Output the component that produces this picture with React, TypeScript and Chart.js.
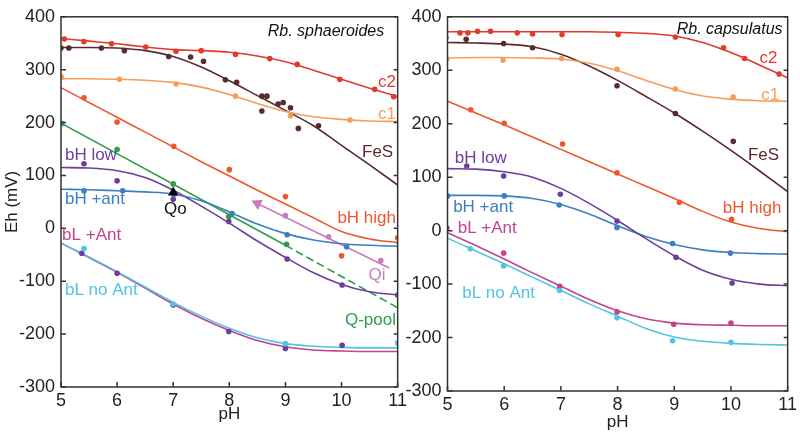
import React, { useEffect, useRef } from 'react';
import { Chart, registerables } from 'chart.js';
Chart.register(...registerables);
Chart.defaults.font.family = '"Liberation Sans", Arial, sans-serif';

type P = [number, number];

// pH grid for fitted curves
const PH_GRID = [5, 5.5, 6, 6.5, 7, 7.5, 8, 8.5, 9, 9.5, 10, 10.5, 11];
const X_TICKS = [5, 6, 7, 8, 9, 10, 11];
const Y_TICKS = [-300, -200, -100, 0, 100, 200, 300, 400];

const COL = {
  c2: '#e5392b',
  c1: '#f59d5a',
  fes: '#5a2b2d',
  bhHigh: '#f0562c',
  bhLow: '#6b3f9b',
  bhAnt: '#3d7fc0',
  qpool: '#2e9d46',
  qi: '#c97cc0',
  blAnt: '#c2438f',
  blNo: '#52c4e3',
  qo: '#000000',
};

// ---------- Rb. sphaeroides (left) ----------
const L_C2_CURVE = [359, 354, 349, 343, 338, 336, 333, 326, 315, 299, 282, 265, 249];
const L_C1_CURVE = [283, 283, 282, 280, 276, 267, 253, 236, 221, 211, 206, 203, 202];
const L_FES_CURVE = [342, 342, 341, 336, 325, 305, 279, 251, 223, 194, 157, 120, 82];
const L_BHHIGH_CURVE = [266, 238, 210, 182, 154, 126, 99, 72, 46, 20, -6, -20, -27];
const L_BHANT_CURVE = [74, 73, 71, 69, 65, 52, 31, 8, -10, -22, -29, -32, -34];
const L_BHLOW_CURVE = [115, 114, 109, 96, 72, 42, 10, -24, -55, -84, -106, -120, -126];
const L_BLANT_CURVE = [-28, -55, -83, -113, -143, -170, -193, -212, -224, -230, -232, -233, -233];
const L_BLNO_CURVE = [-28, -54, -82, -111, -140, -166, -189, -207, -218, -223, -225, -226, -226];
const L_QPOOL_LINE: P[] = [[5, 199], [9, -32], [11, -150]];
const L_QI_LINE: P[] = [[8.5, 47], [10.85, -75]];
const L_QO_MARK: P[] = [[7.0, 68]];

const L_C2_PTS: P[] = [[5.06, 358], [5.41, 353], [5.9, 349], [6.51, 343], [7.05, 335], [7.5, 336], [8.11, 329], [8.72, 321], [9.21, 310], [9.97, 282], [10.59, 263], [10.93, 249]];
const L_C1_PTS: P[] = [[5.01, 286], [6.04, 282], [7.05, 273], [8.11, 250], [9.09, 213], [10.15, 205]];
const L_FES_PTS: P[] = [[5.0, 341], [5.14, 341], [5.72, 341], [6.13, 336], [6.92, 325], [7.31, 324], [7.54, 316], [7.93, 281], [8.13, 276], [8.58, 250], [8.67, 250], [8.58, 222], [8.87, 235], [8.96, 238], [9.09, 228], [9.23, 189], [9.59, 194]];
const L_BHHIGH_PTS: P[] = [[5.41, 247], [6.0, 201], [7.01, 155], [8.0, 111], [9.0, 60], [10.0, -52], [11.0, -18]];
const L_BHANT_PTS: P[] = [[5.41, 71], [6.1, 71], [7.01, 64], [8.05, 28], [9.03, -12], [10.09, -35]];
const L_BHLOW_PTS: P[] = [[5.41, 122], [6.0, 90], [7.0, 55], [7.99, 13], [9.03, -58], [10.01, -107], [11.0, -126]];
const L_QPOOL_PTS: P[] = [[5.01, 198], [6.0, 149], [7.0, 84], [7.99, 22], [9.02, -30]];
const L_QI_PTS: P[] = [[9.0, 24], [9.77, -16], [10.7, -61]];
const L_BLANT_PTS: P[] = [[5.37, -47], [6.0, -85], [7.0, -145], [7.99, -195], [9.0, -227], [10.01, -221]];
const L_BLNO_PTS: P[] = [[5.41, -38], [7.0, -143], [9.0, -218], [11.0, -217]];

// ---------- Rb. capsulatus (right) ----------
const R_C2_CURVE = [372, 372, 372, 372, 372, 372, 371, 369, 364, 352, 333, 310, 286];
const R_C1_CURVE = [323, 324, 324, 323, 321, 313, 299, 281, 264, 252, 246, 243, 242];
const R_FES_CURVE = [352, 351, 349, 344, 330, 308, 281, 251, 220, 186, 150, 112, 73];
const R_BHHIGH_CURVE = [242, 220, 198, 175, 152, 129, 106, 83, 60, 36, 16, 4, -2];
const R_BHLOW_CURVE = [116, 115, 110, 100, 79, 51, 19, -15, -47, -74, -91, -100, -103];
const R_BHANT_CURVE = [66, 66, 65, 60, 49, 31, 9, -11, -26, -36, -41, -43, -44];
const R_BLANT_CURVE = [-4, -28, -53, -79, -104, -129, -150, -165, -173, -176, -177, -178, -178];
const R_BLNO_CURVE = [-14, -38, -62, -87, -112, -137, -160, -183, -199, -207, -211, -213, -214];

const R_C2_PTS: P[] = [[5.22, 370], [5.36, 370], [5.53, 373], [5.76, 373], [6.23, 370], [6.5, 368], [7.02, 367], [8.01, 367], [9.02, 362], [9.87, 342], [10.24, 322], [10.85, 293]];
const R_C1_PTS: P[] = [[4.99, 321], [5.98, 319], [7.01, 322], [7.99, 302], [9.02, 265], [10.04, 250]];
const R_FES_PTS: P[] = [[4.97, 361], [5.33, 358], [5.99, 350], [6.5, 342], [7.99, 271], [9.02, 219], [10.04, 167]];
const R_BHHIGH_PTS: P[] = [[5.41, 226], [6.0, 201], [7.03, 162], [7.99, 108], [9.09, 53], [10.01, 21]];
const R_BHLOW_PTS: P[] = [[5.34, 121], [5.99, 102], [6.99, 68], [7.99, 18], [9.03, -50], [10.02, -98]];
const R_BHANT_PTS: P[] = [[5.0, 65], [6.0, 65], [6.97, 48], [7.99, 6], [8.97, -24], [9.99, -42]];
const R_BLANT_PTS: P[] = [[4.99, 5], [5.99, -42], [6.98, -104], [7.99, -152], [8.99, -175], [10.0, -173]];
const R_BLNO_PTS: P[] = [[5.4, -34], [5.99, -66], [6.98, -112], [7.99, -163], [8.97, -206], [10.0, -209]];

type Label = { text: string; x: number; y: number; color: string; align: CanvasTextAlign; italic?: boolean };

const L_LABELS: Label[] = [
  { text: 'Rb. sphaeroides', x: 10.76, y: 372, color: '#111', align: 'right', italic: true },
  { text: 'c2', x: 10.97, y: 276, color: COL.c2, align: 'right' },
  { text: 'c1', x: 10.97, y: 215, color: COL.c1, align: 'right' },
  { text: 'FeS', x: 10.92, y: 143, color: COL.fes, align: 'right' },
  { text: 'bH low', x: 5.07, y: 138, color: COL.bhLow, align: 'left' },
  { text: 'bH +ant', x: 5.07, y: 55, color: COL.bhAnt, align: 'left' },
  { text: 'Qo', x: 7.04, y: 36, color: '#111', align: 'center' },
  { text: 'bH high', x: 10.97, y: 19, color: COL.bhHigh, align: 'right' },
  { text: 'bL +Ant', x: 5.02, y: -14, color: COL.blAnt, align: 'left' },
  { text: 'Qi', x: 10.48, y: -88, color: COL.qi, align: 'left' },
  { text: 'bL no Ant', x: 5.07, y: -117, color: COL.blNo, align: 'left' },
  { text: 'Q-pool', x: 10.97, y: -173, color: COL.qpool, align: 'right' },
];

const R_LABELS: Label[] = [
  { text: 'Rb. capsulatus', x: 10.91, y: 376, color: '#111', align: 'right', italic: true },
  { text: 'c2', x: 10.82, y: 323, color: COL.c2, align: 'right' },
  { text: 'c1', x: 10.85, y: 254, color: COL.c1, align: 'right' },
  { text: 'FeS', x: 10.85, y: 141, color: COL.fes, align: 'right' },
  { text: 'bH low', x: 5.13, y: 136, color: COL.bhLow, align: 'left' },
  { text: 'bH +ant', x: 5.1, y: 43, color: COL.bhAnt, align: 'left' },
  { text: 'bH high', x: 10.89, y: 42, color: COL.bhHigh, align: 'right' },
  { text: 'bL +Ant', x: 5.18, y: 5, color: COL.blAnt, align: 'left' },
  { text: 'bL no Ant', x: 5.26, y: -117, color: COL.blNo, align: 'left' },
];

const toXY = (arr: P[]) => arr.map(([x, y]) => ({ x, y }));
const curve = (ys: number[], color: string) => ({
  data: PH_GRID.map((x, i) => ({ x, y: ys[i] })),
  showLine: true,
  borderColor: color,
  backgroundColor: color,
  borderWidth: 1.6,
  pointRadius: 0,
  cubicInterpolationMode: 'monotone' as const,
  order: 2,
});
const pts = (arr: P[], color: string) => ({
  data: toXY(arr),
  showLine: false,
  backgroundColor: color,
  borderColor: color,
  borderWidth: 0,
  pointRadius: 2.8,
  order: 1,
});

const makePlugin = (labels: Label[]) => ({
  id: 'frameAndLabels',
  afterDatasetsDraw(chart: any) {
    const { ctx, chartArea: a, scales } = chart;
    const xs = scales.x;
    const ys = scales.y;
    ctx.save();
    ctx.strokeStyle = '#333';
    ctx.lineWidth = 1.5;
    ctx.strokeRect(a.left, a.top, a.right - a.left, a.bottom - a.top);
    ctx.beginPath();
    X_TICKS.forEach((v) => {
      const px = xs.getPixelForValue(v);
      ctx.moveTo(px, a.bottom);
      ctx.lineTo(px, a.bottom - 5);
    });
    Y_TICKS.forEach((v) => {
      const py = ys.getPixelForValue(v);
      ctx.moveTo(a.left, py);
      ctx.lineTo(a.left + 5, py);
      ctx.moveTo(a.right, py);
      ctx.lineTo(a.right - 4, py);
    });
    ctx.stroke();
    ctx.textBaseline = 'middle';
    labels.forEach((l) => {
      ctx.font = (l.italic ? 'italic ' : '') + '17px "Liberation Sans", Arial, sans-serif';
      if (l.italic) ctx.font = 'italic 16px "Liberation Sans", Arial, sans-serif';
      ctx.fillStyle = l.color;
      ctx.textAlign = l.align;
      ctx.fillText(l.text, xs.getPixelForValue(l.x), ys.getPixelForValue(l.y));
    });
    ctx.restore();
  },
});

function buildOptions(opts: { yWidth: number; xHeight: number; padding: any; yTitle: string | null }) {
  return {
    responsive: false,
    animation: false as const,
    devicePixelRatio: 1,
    layout: { padding: opts.padding },
    plugins: { legend: { display: false }, tooltip: { enabled: false } },
    scales: {
      x: {
        type: 'linear' as const,
        min: 5,
        max: 11,
        afterFit: (s: any) => { s.height = opts.xHeight; },
        afterBuildTicks: (s: any) => { s.ticks = X_TICKS.map((v) => ({ value: v })); },
        grid: { display: false, drawTicks: false },
        border: { display: false },
        ticks: { color: '#222', font: { size: 18 }, padding: 3 },
        title: { display: true, text: 'pH', color: '#222', font: { size: 17 }, padding: 4 },
      },
      y: {
        type: 'linear' as const,
        min: -300,
        max: 400,
        afterFit: (s: any) => { s.width = opts.yWidth; },
        afterBuildTicks: (s: any) => { s.ticks = Y_TICKS.map((v) => ({ value: v })); },
        grid: { display: false, drawTicks: false },
        border: { display: false },
        ticks: { color: '#222', font: { size: 18 }, padding: 6 },
        title: { display: !!opts.yTitle, text: opts.yTitle || '', color: '#222', font: { size: 17 }, padding: 2 },
      },
    },
  };
}

function Panel(props: { datasets: any[]; labels: Label[]; options: any; width: number; left: number }) {
  const ref = useRef<HTMLCanvasElement>(null);
  useEffect(() => {
    if (!ref.current) return;
    const chart = new Chart(ref.current, {
      type: 'scatter',
      data: { datasets: props.datasets },
      options: props.options,
      plugins: [makePlugin(props.labels)],
    } as any);
    return () => chart.destroy();
  }, []);
  return (
    <canvas
      ref={ref}
      width={props.width}
      height={439}
      style={{ position: 'absolute', left: props.left, top: 0, width: props.width, height: 439 }}
    />
  );
}

export default function App() {
  const leftDatasets = [
    curve(L_C2_CURVE, COL.c2), pts(L_C2_PTS, COL.c2),
    curve(L_C1_CURVE, COL.c1), pts(L_C1_PTS, COL.c1),
    curve(L_FES_CURVE, COL.fes), pts(L_FES_PTS, COL.fes),
    curve(L_BHHIGH_CURVE, COL.bhHigh), pts(L_BHHIGH_PTS, COL.bhHigh),
    curve(L_BHANT_CURVE, COL.bhAnt), pts(L_BHANT_PTS, COL.bhAnt),
    curve(L_BHLOW_CURVE, COL.bhLow), pts(L_BHLOW_PTS, COL.bhLow),
    curve(L_BLNO_CURVE, COL.blNo), pts(L_BLNO_PTS, COL.blNo),
    curve(L_BLANT_CURVE, COL.blAnt), pts(L_BLANT_PTS, COL.bhLow),
    {
      data: toXY(L_QPOOL_LINE), showLine: true, borderColor: COL.qpool, backgroundColor: COL.qpool,
      borderWidth: 1.6, pointRadius: 0, tension: 0, order: 2,
      segment: { borderDash: (c: any) => (c.p0.parsed.x >= 9 ? [8, 4] : undefined) },
    },
    pts(L_QPOOL_PTS, COL.qpool),
    {
      data: toXY(L_QI_LINE), showLine: true, borderColor: COL.qi, backgroundColor: COL.qi,
      borderWidth: 1.6, pointStyle: 'triangle', rotation: -64,
      pointRadius: (c: any) => (c.dataIndex === 0 ? 5 : 0), order: 2,
    },
    pts(L_QI_PTS, COL.qi),
    { data: toXY(L_QO_MARK), showLine: false, pointStyle: 'triangle', pointRadius: 6, backgroundColor: COL.qo, borderColor: COL.qo, borderWidth: 0, order: 0 },
  ];
  const rightDatasets = [
    curve(R_C2_CURVE, COL.c2), pts(R_C2_PTS, COL.c2),
    curve(R_C1_CURVE, COL.c1), pts(R_C1_PTS, COL.c1),
    curve(R_FES_CURVE, COL.fes), pts(R_FES_PTS, COL.fes),
    curve(R_BHHIGH_CURVE, COL.bhHigh), pts(R_BHHIGH_PTS, COL.bhHigh),
    curve(R_BHLOW_CURVE, COL.bhLow), pts(R_BHLOW_PTS, COL.bhLow),
    curve(R_BHANT_CURVE, COL.bhAnt), pts(R_BHANT_PTS, COL.bhAnt),
    curve(R_BLNO_CURVE, COL.blNo), pts(R_BLNO_PTS, COL.blNo),
    curve(R_BLANT_CURVE, COL.blAnt), pts(R_BLANT_PTS, COL.blAnt),
  ];
  const leftOpts = buildOptions({ yWidth: 61, xHeight: 42, padding: { top: 8, right: 8, bottom: 10, left: 0 }, yTitle: 'Eh (mV)' });
  const rightOpts = buildOptions({ yWidth: 52, xHeight: 46, padding: { top: 12, right: 12, bottom: 2, left: 0.5 }, yTitle: null });
  return (
    <div style={{ position: 'fixed', left: 0, top: 0, width: 800, height: 439, background: '#fff', overflow: 'hidden' }}>
      <Panel datasets={leftDatasets} labels={L_LABELS} options={leftOpts} width={410} left={0} />
      <Panel datasets={rightDatasets} labels={R_LABELS} options={rightOpts} width={405} left={395} />
    </div>
  );
}
